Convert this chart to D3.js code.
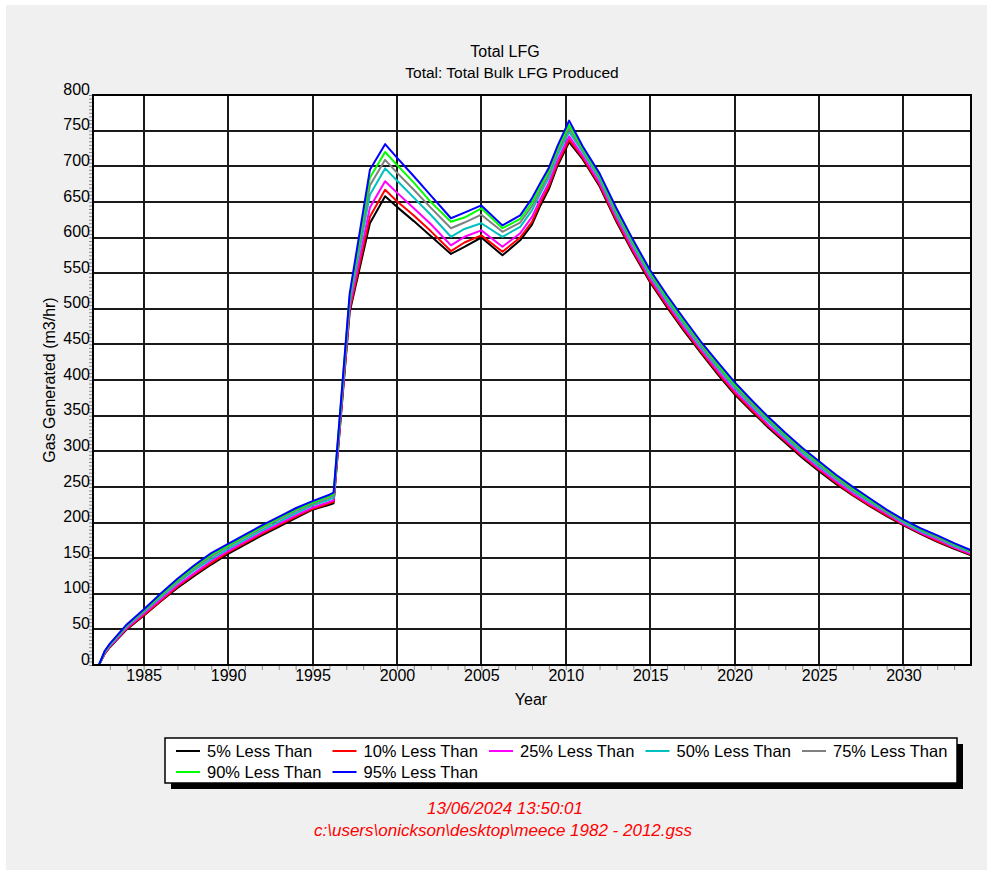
<!DOCTYPE html>
<html>
<head>
<meta charset="utf-8">
<script src="https://cdn.jsdelivr.net/npm/d3@7"></script>
<style>
  html, body { margin: 0; padding: 0; background: #ffffff; }
  svg { display: block; font-family: "Liberation Sans", Arial, sans-serif; }
</style>
</head>
<body>
<svg id="chart" width="987" height="870"></svg>
<script>
// Time points (decimal years) shared by every percentile series
const years = [1982, 1982.35, 1982.7, 1983, 1984, 1985, 1986, 1987, 1988, 1989, 1990,
  1991, 1992, 1993, 1994, 1995, 1996, 1996.25, 1997.2, 1998.4, 1999.3, 2000, 2001, 2002,
  2003.2, 2004, 2005, 2006.25, 2007.3, 2008, 2008.5, 2009, 2009.5, 2010.2, 2011, 2012,
  2013, 2014, 2015, 2016, 2017, 2018, 2019, 2020, 2021, 2022, 2023, 2024, 2025, 2026,
  2027, 2028, 2029, 2030, 2031, 2032, 2033, 2034];

// Gas generated (m3/hr) per percentile
const p5 = [0, 0, 16, 25, 50, 69, 89, 108, 125, 141, 156, 169, 182, 194, 206, 218, 225, 227,
  495, 620, 658, 643, 623, 602, 577, 587, 600, 575, 596, 618, 645, 668, 700, 734, 710, 672,
  622, 578, 537, 502, 469, 438, 408, 380, 356, 333, 312, 291, 272, 254, 238, 223, 209, 196,
  184, 173, 163, 154];
const p10 = [0, 0, 16, 26, 51, 70, 90, 110, 127, 143, 158, 171, 184, 196, 208, 219, 227, 229,
  498, 629, 667, 651, 631, 609, 581, 593, 603, 580, 600, 622, 649, 672, 703, 737, 712, 674,
  624, 580, 539, 504, 471, 440, 410, 382, 358, 335, 314, 293, 274, 256, 239, 224, 210, 197,
  185, 174, 164, 155];
const p25 = [0, 0, 17, 26, 52, 72, 92, 112, 129, 146, 160, 173, 186, 198, 210, 221, 229, 231,
  503, 642, 679, 663, 641, 619, 589, 601, 610, 587, 606, 629, 654, 677, 708, 742, 715, 677,
  628, 583, 542, 507, 474, 443, 413, 385, 361, 337, 316, 295, 276, 258, 241, 226, 212, 198,
  186, 176, 165, 156];
const p50 = [0, 0, 18, 28, 54, 74, 95, 115, 133, 149, 163, 176, 189, 201, 213, 224, 232, 235,
  509, 660, 697, 680, 656, 632, 601, 612, 620, 601, 615, 638, 662, 684, 715, 748, 720, 682,
  632, 588, 546, 511, 478, 446, 417, 389, 364, 341, 319, 298, 279, 261, 244, 229, 214, 200,
  188, 178, 167, 158];
const p75 = [0, 0, 19, 29, 55, 75, 97, 117, 136, 152, 166, 179, 192, 204, 216, 226, 235, 238,
  513, 673, 709, 691, 667, 642, 613, 621, 632, 608, 621, 644, 667, 689, 720, 753, 723, 685,
  635, 591, 549, 514, 481, 449, 420, 392, 367, 344, 322, 301, 282, 263, 246, 231, 215, 202,
  190, 179, 169, 159];
const p90 = [0, 0, 19, 29, 56, 77, 98, 119, 138, 155, 168, 181, 194, 206, 218, 228, 237, 240,
  517, 684, 720, 702, 677, 650, 622, 628, 641, 613, 626, 649, 672, 694, 724, 758, 725, 687,
  638, 593, 551, 516, 483, 452, 422, 394, 370, 346, 324, 303, 284, 265, 248, 232, 217, 203,
  191, 181, 170, 160];
const p95 = [0, 0, 20, 30, 57, 78, 100, 121, 140, 157, 170, 183, 196, 208, 220, 230, 239, 242,
  521, 695, 731, 712, 686, 659, 627, 635, 645, 617, 631, 655, 677, 698, 728, 764, 728, 690,
  641, 596, 554, 519, 486, 454, 425, 397, 372, 348, 326, 305, 286, 267, 250, 234, 218, 204,
  192, 182, 171, 161];

const seriesNames = ["5% Less Than", "10% Less Than", "25% Less Than", "50% Less Than",
  "75% Less Than", "90% Less Than", "95% Less Than"];
const seriesColors = ["#000000", "#ff0000", "#ff00ff", "#00c0c0", "#808080", "#00ff00", "#0000ff"];
const seriesValues = [p5, p10, p25, p50, p75, p90, p95];

const yTicks = d3.range(0, 801, 50);
const xTicks = d3.range(1985, 2031, 5);

const titleText = "Total LFG";
const subtitleText = "Total: Total Bulk LFG Produced";
const xLabel = "Year";
const yLabel = "Gas Generated (m3/hr)";
const stampText = "13/06/2024 13:50:01";
const fileText = "c:\\users\\onickson\\desktop\\meece 1982 - 2012.gss";

// ---- layout ----
const FONT = "'Liberation Sans', Arial, sans-serif";
const FS = 16;
const svg = d3.select("#chart");
const plot = { left: 93, right: 971, top: 95, bottom: 665 };

svg.append("rect").attr("x", 6).attr("y", 5).attr("width", 981).attr("height", 865)
  .attr("fill", "#f0f0f0");

const x = d3.scaleLinear().domain([1982, 2034]).range([plot.left, plot.right]);
const y = d3.scaleLinear().domain([0, 800]).range([plot.bottom, plot.top]);

svg.append("rect")
  .attr("x", plot.left).attr("y", plot.top)
  .attr("width", plot.right - plot.left).attr("height", plot.bottom - plot.top)
  .attr("fill", "#ffffff");

// grid
const grid = svg.append("g").attr("stroke", "#1a1a1a").attr("stroke-width", 2);
grid.selectAll("line.h").data(yTicks.slice(1, -1)).join("line")
  .attr("x1", plot.left).attr("x2", plot.right)
  .attr("y1", d => Math.round(y(d))).attr("y2", d => Math.round(y(d)));
grid.selectAll("line.v").data(xTicks).join("line")
  .attr("y1", plot.top).attr("y2", plot.bottom)
  .attr("x1", d => Math.round(x(d))).attr("x2", d => Math.round(x(d)));

// minor ticks
const yMinor = d3.axisLeft(y).tickValues(d3.range(0, 801, 5)).tickSize(4).tickFormat("");
svg.append("g").attr("transform", `translate(${plot.left},0)`).call(yMinor)
  .call(g => g.select(".domain").remove())
  .call(g => g.selectAll(".tick line").attr("stroke", "#8a8a8a"));
const xMinor = d3.axisBottom(x).tickValues(d3.range(1983, 2034, 1)).tickSize(5).tickFormat("");
svg.append("g").attr("transform", `translate(0,${plot.bottom})`).call(xMinor)
  .call(g => g.select(".domain").remove())
  .call(g => g.selectAll(".tick line").attr("stroke", "#8a8a8a"));

// major tick labels
const yAxis = d3.axisLeft(y).tickValues(yTicks).tickSize(0).tickPadding(3);
svg.append("g").attr("transform", `translate(${plot.left},0)`).call(yAxis)
  .call(g => g.select(".domain").remove())
  .call(g => g.selectAll("text").attr("font-size", FS).attr("fill", "#000")
    .attr("font-family", FONT).attr("dy", "-0.05em"));
const xAxis = d3.axisBottom(x).tickValues(xTicks).tickSize(0).tickPadding(5).tickFormat(d3.format("d"));
svg.append("g").attr("transform", `translate(0,${plot.bottom})`).call(xAxis)
  .call(g => g.select(".domain").remove())
  .call(g => g.selectAll("text").attr("font-size", FS).attr("fill", "#000")
    .attr("font-family", FONT));

// series
const line = d3.line().x((d, i) => x(years[i])).y(d => y(d));
svg.append("g").attr("fill", "none").attr("stroke-width", 2).attr("stroke-linejoin", "round")
  .selectAll("path").data(seriesValues).join("path")
  .attr("stroke", (d, i) => seriesColors[i])
  .attr("d", d => line(d));

// frame
svg.append("rect")
  .attr("x", plot.left).attr("y", plot.top)
  .attr("width", plot.right - plot.left).attr("height", plot.bottom - plot.top)
  .attr("fill", "none").attr("stroke", "#000").attr("stroke-width", 2);

// titles
svg.append("text").attr("x", 505).attr("y", 57).attr("text-anchor", "middle")
  .attr("font-size", FS).text(titleText);
svg.append("text").attr("x", 512).attr("y", 78).attr("text-anchor", "middle")
  .attr("font-size", 15.5).text(subtitleText);
svg.append("text").attr("x", 531).attr("y", 705).attr("text-anchor", "middle")
  .attr("font-size", FS).text(xLabel);
svg.append("text").attr("transform", "translate(55,380) rotate(-90)").attr("text-anchor", "middle")
  .attr("font-size", FS).text(yLabel);

// legend
const lg = { x: 165, y: 738, w: 792, h: 45 };
svg.append("rect").attr("x", lg.x + 6).attr("y", lg.y + 6).attr("width", lg.w).attr("height", lg.h)
  .attr("fill", "#000");
svg.append("rect").attr("x", lg.x).attr("y", lg.y).attr("width", lg.w).attr("height", lg.h)
  .attr("fill", "#fff").attr("stroke", "#000").attr("stroke-width", 1.5);
const items = svg.append("g").selectAll("g").data(seriesNames).join("g")
  .attr("transform", (d, i) => `translate(${lg.x + 11 + (i % 5) * 156.5},${lg.y + 13 + Math.floor(i / 5) * 21})`);
items.append("line").attr("x1", 0).attr("x2", 24).attr("y1", 0).attr("y2", 0)
  .attr("stroke", (d, i) => seriesColors[i]).attr("stroke-width", 2);
items.append("text").attr("x", 31).attr("y", 5.5).attr("font-size", 16.5).text(d => d);

// footer
svg.append("text").attr("x", 505).attr("y", 814).attr("text-anchor", "middle")
  .attr("font-size", 17).attr("font-style", "italic").attr("fill", "#ff0000").text(stampText);
svg.append("text").attr("x", 503).attr("y", 836).attr("text-anchor", "middle")
  .attr("font-size", 17).attr("font-style", "italic").attr("fill", "#ff0000").text(fileText);
</script>
</body>
</html>
